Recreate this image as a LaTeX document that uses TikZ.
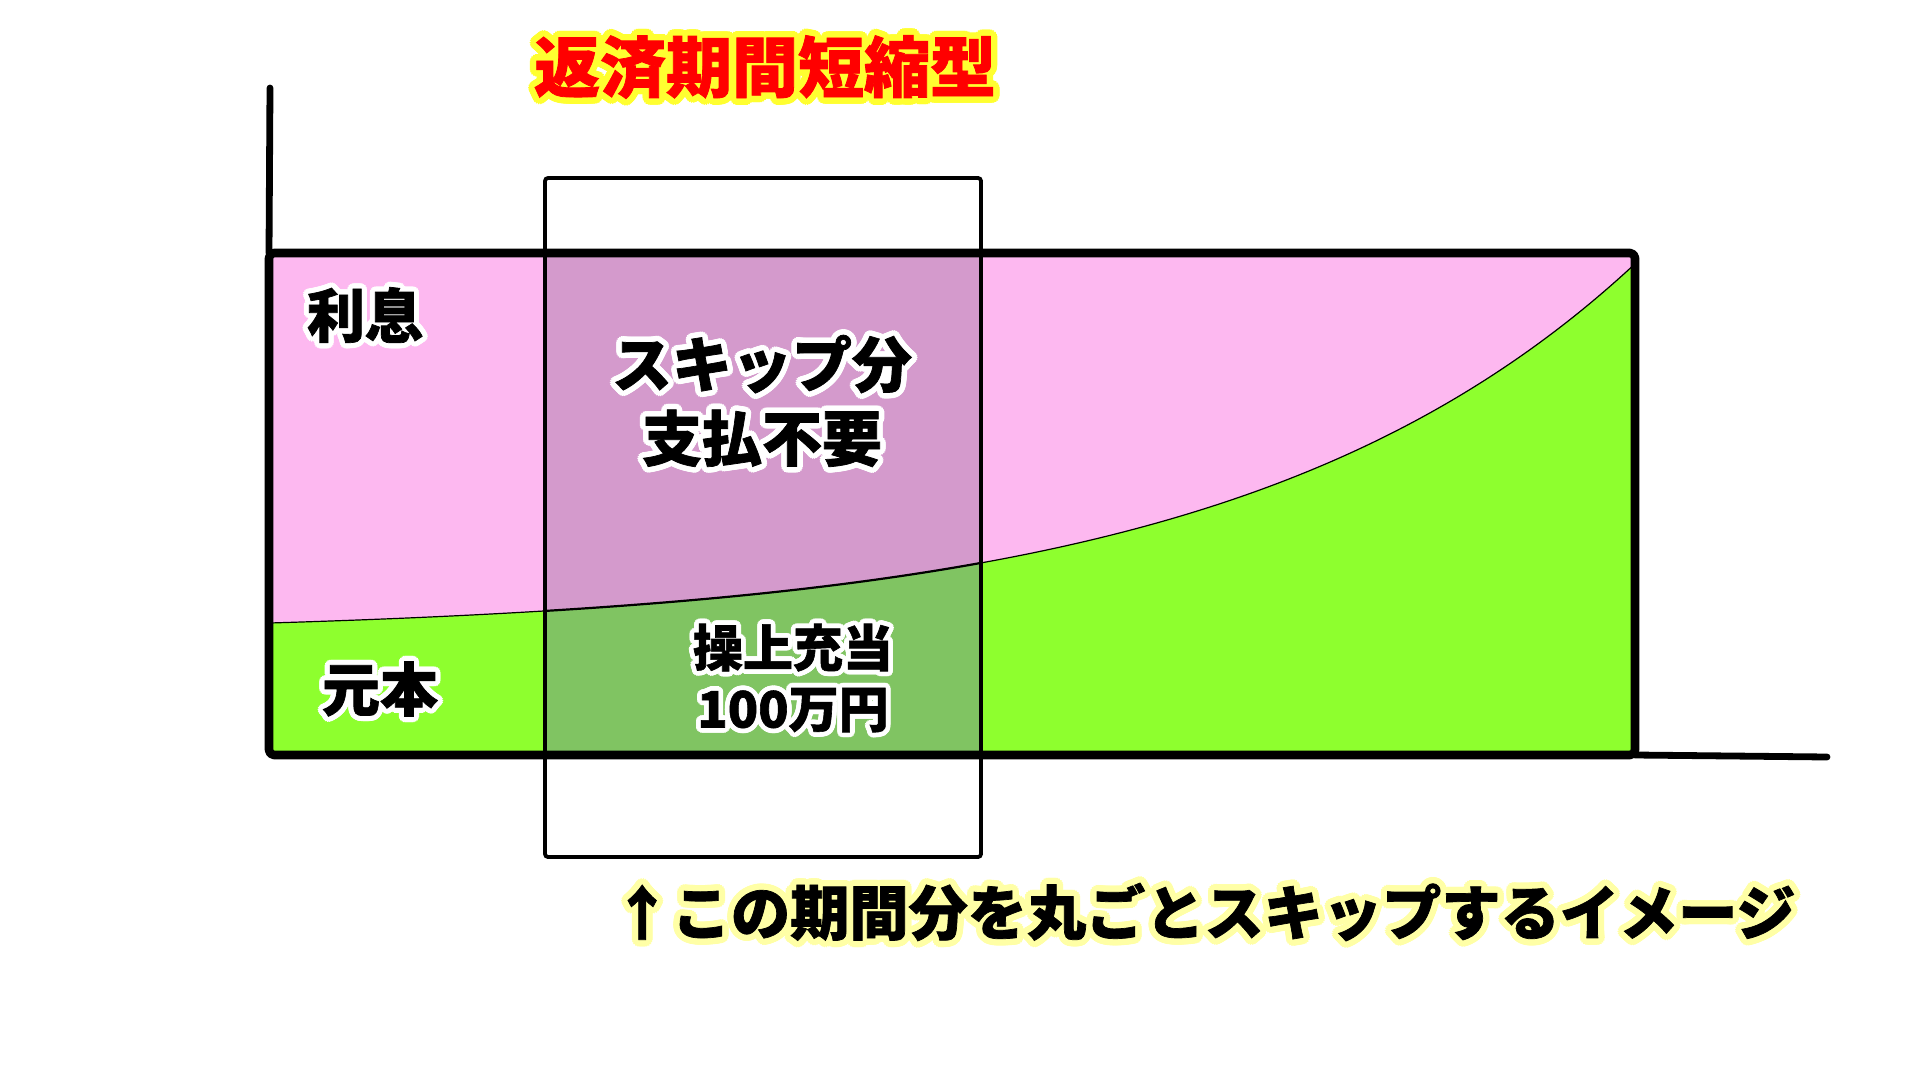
\documentclass[tikz,border=0pt]{standalone}
\usepackage{fontspec}
\newfontfamily\cjk{Noto Sans CJK JP}[BoldFeatures={FakeBold=1.2}]
\definecolor{pinkA}{HTML}{FDB8F0}
\definecolor{greenA}{HTML}{8EFF2E}
\definecolor{purpleA}{HTML}{D49ACC}
\definecolor{greenB}{HTML}{80C462}
\definecolor{titlered}{HTML}{FF0000}
\definecolor{titleglow}{HTML}{FFFF30}
\definecolor{paleglow}{HTML}{FFFFA6}
\tikzset{
  mainframe/.style={draw=black, line width=4.3pt, rounded corners=2.5pt, line join=round},
  axisline/.style={draw=black, line width=3.4pt, line cap=round},
  skipframe/.style={draw=black, line width=1.9pt, rounded corners=1.5pt},
  curveline/.style={draw=black, line width=0.6pt},
  lbl/.style={font=\cjk\bfseries\fontsize{29}{35}\selectfont, text=black, inner sep=0pt, align=center},
  midlbl/.style={font=\cjk\bfseries\fontsize{30}{37}\selectfont, text=black, inner sep=0pt, align=center},
  smalllbl/.style={font=\cjk\bfseries\fontsize{25}{30.5}\selectfont, text=black, inner sep=0pt, align=center},
  titlelbl/.style={font=\cjk\bfseries\fontsize{33}{40}\selectfont, text=titlered, inner sep=0pt},
  notelbl/.style={font=\cjk\bfseries\fontsize{29.6}{36}\selectfont, text=black, inner sep=0pt},
}
% style, name, position, glow colour, glow radius, text
\newcommand\glownode[6]{%
  \foreach \a in {0,20,...,340}{\node[#1,text=#4,shift={(\a:#5)}] at (#3) {#6};}
  \node[#1] (#2) at (#3) {#6};}
\newcommand\curvey[1]{755-119.8-12.17*exp(0.0025*(#1-269))}
\begin{document}
\begin{tikzpicture}[x=0.5pt,y=-0.5pt]
\useasboundingbox (0,0) rectangle (1920,1080);
\fill[white] (0,0) rectangle (1920,1080);
\coordinate (tl) at (269,253);
\coordinate (br) at (1635,755);
\coordinate (ytop) at (270,88);
\coordinate (xend) at (1827,757);
\coordinate (s1) at (545,178);
\coordinate (s2) at (981,857);
% fills
\fill[pinkA] (tl) rectangle (br);
\fill[greenA] (269,755) -- plot[domain=269:1635, samples=150] (\x,{\curvey{\x}}) -- (1635,755) -- cycle;
\fill[purpleA] (545,253) rectangle (981,755);
\fill[greenB] (545,755) -- plot[domain=545:981, samples=60] (\x,{\curvey{\x}}) -- (981,755) -- cycle;
% boundary curve
\draw[curveline] plot[domain=269:545, samples=40] (\x,{\curvey{\x}});
\draw[curveline] plot[domain=981:1633, samples=120] (\x,{\curvey{\x}});
\draw[draw=black, line width=1.1pt] plot[domain=545:981, samples=60] (\x,{\curvey{\x}});
% skip box
\draw[skipframe] (s1) rectangle (s2);
% frame and axes
\draw[mainframe] (tl) rectangle (br);
\draw[axisline] (ytop) -- (tl);
\draw[axisline] (br) -- (xend);
% labels
\glownode{titlelbl}{title}{765,67}{titleglow}{3.2pt}{返済期間短縮型}
\glownode{lbl}{risoku}{365,315}{white}{2.6pt}{利息}
\glownode{lbl}{ganpon}{380,689}{white}{2.6pt}{元本}
\glownode{midlbl}{skiptxt}{762,401}{white}{2.8pt}{スキップ分\\支払不要}
\glownode{smalllbl}{kuriage}{793,678}{white}{2.4pt}{操上充当\\100万円}
\glownode{notelbl}{note}{1204,912}{paleglow}{3.2pt}{↑この期間分を丸ごとスキップするイメージ}
\end{tikzpicture}
\end{document}
